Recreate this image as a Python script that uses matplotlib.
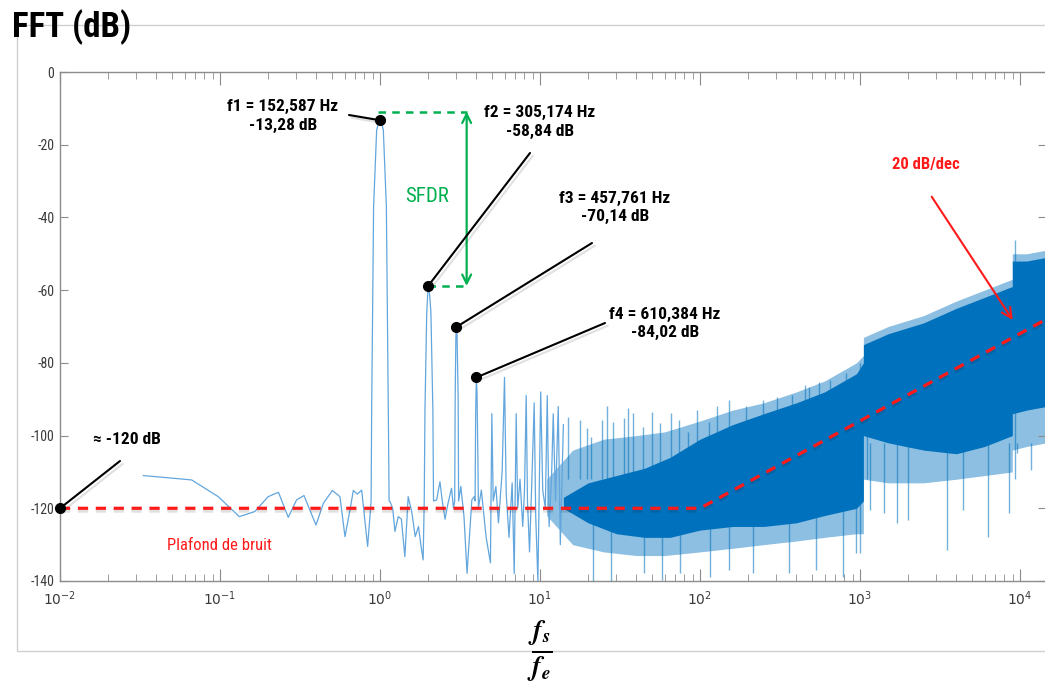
import numpy as np
import matplotlib
matplotlib.use("Agg")
import matplotlib.pyplot as plt
import matplotlib.patheffects as pe
from matplotlib.patches import Rectangle
from matplotlib.ticker import NullFormatter, FixedLocator

plt.rcParams['font.family'] = ['Roboto Condensed', 'DejaVu Sans']
plt.rcParams['axes.unicode_minus'] = False

# ---------------- data ----------------
# low-frequency trace (f / fe, dB)
line_f = [0.0332, 0.0665, 0.0975, 0.132, 0.165, 0.200, 0.232, 0.267, 0.301, 0.335, 0.398, 0.443, 0.504, 0.562, 0.604, 0.649, 0.681, 0.721, 0.768, 0.837,
          0.880, 0.887, 0.912, 0.953, 0.980, 1.000, 1.020, 1.049, 1.096, 1.127, 1.140,
          1.155, 1.20, 1.24, 1.30, 1.36, 1.43, 1.50, 1.58, 1.66, 1.74, 1.80, 1.86,
          1.89, 1.91, 1.96, 2.00, 2.04, 2.08, 2.14, 2.16,
          2.26, 2.37, 2.45, 2.55, 2.65, 2.80, 2.88,
          2.93, 2.95, 2.98, 3.00, 3.03, 3.08, 3.10,
          3.20, 3.35, 3.50, 3.75, 3.88,
          3.93, 3.96, 4.00, 4.04, 4.10, 4.12,
          4.30, 4.60, 4.90, 5.00, 5.10, 5.30, 5.50, 5.80, 6.00, 6.15, 6.40, 6.70, 6.90, 7.10,
          7.25, 7.50, 7.80, 8.00, 8.20, 8.35, 8.60, 8.90, 9.20, 9.40, 9.70, 10.1, 10.4, 10.8,
          11.1, 11.4, 11.8, 12.1, 12.5, 13.0, 13.4, 14.0]
line_db = [-111.0, -112.2, -116.8, -122.3, -120.9, -116.8, -115.6, -122.5, -117.7, -116.5, -124.6, -118.6, -115.1, -116.8, -127.8, -120.5, -115.1, -116.1, -115.0, -130.5,
           -118, -93, -37, -16, -13.8, -13.28, -13.8, -16, -37, -93, -118,
           -118.2, -120, -126.4, -122.3, -123, -133.3, -116.8, -121, -127.8, -125, -130, -134.2,
           -118, -93, -66, -58.84, -61, -66, -93, -118,
           -117.7, -112.7, -118, -123, -119, -114.5, -120,
           -118, -90, -73, -70.14, -72, -90, -118,
           -114, -122.3, -137.9, -117.7, -116.8,
           -118, -95, -84.02, -88, -110, -120,
           -115, -127.8, -135, -94, -118, -114, -124, -110, -84, -116, -128, -113, -138, -94,
           -120, -112, -125, -115, -89, -118, -132, -112, -91, -122, -140, -88, -115, -120,
           -89, -125, -112, -94, -118, -92, -130, -97]

# dense noise: dark core band
core_f = [14, 20, 30, 45, 65, 100, 160, 250, 400, 600, 950, 1050, 1050, 1500, 2500, 4000, 6000, 8950, 8950, 11000, 14600]
core_upper = [-117, -113, -111, -109, -106, -101, -97, -94, -91, -88, -83, -80, -75, -72, -69, -65, -62, -59, -52, -52, -51]
core_lower = [-120, -124, -127, -128, -128, -126, -125, -125, -124, -122, -120, -118, -100, -102, -104, -105, -103, -100, -94, -93, -92]

# dense noise: light fringe band
fringe_f = [11, 16, 25, 40, 60, 100, 160, 250, 400, 600, 950, 1050, 1050, 1500, 2500, 4000, 6000, 8950, 8950, 11000, 14600]
fringe_upper = [-112, -104, -101, -100, -99, -96, -93, -91, -88, -85, -80, -78, -73, -70, -67, -63, -60, -57, -50, -50, -49]
fringe_lower = [-122, -130, -132, -133, -133, -132, -131, -130, -129, -128, -127, -127, -112, -113, -113, -112, -111, -110, -104, -103, -102]

# isolated upward spikes
spike_f = [15.0, 17.8, 19.6, 20.9, 24.4, 26.1, 28.5, 33.3, 35.5, 38.3, 44.1, 50.4, 56.2, 65.5, 74, 84, 95.6,
           114, 127, 152, 193, 248, 305, 377, 455, 483, 557, 645, 822, 1000, 1100, 9300]
spike_top = [-94.8, -95.7, -98, -100.5, -95.7, -92, -96.2, -95.2, -92.5, -93.9, -97.6, -93.4, -96.6, -93.9, -95.7, -99, -93,
             -96.2, -92, -90.2, -92, -90.2, -89.5, -88.8, -86.1, -86.6, -85.2, -84.7, -82.9, -80.1, -74.6, -46.2]

# isolated downward spikes
dip_f = [21.5, 27.7, 44.6, 57.5, 74.9, 115, 152, 215, 360, 531, 780, 940,
         1000, 1160, 1410, 1700, 2000, 3500, 4400, 6300, 8500, 9600, 11700]
dip_bottom = [-140, -140, -137.9, -139.7, -137.9, -138.8, -137, -137.9, -137.9, -137, -138.8, -132.4,
              -132.4, -120.5, -121.4, -124.1, -123.2, -131.5, -120.5, -127.8, -121.4, -104.9, -109.5]

# annotated peaks
peak_f = [1.0, 2.0, 3.0, 4.0]
peak_db = [-13.28, -58.84, -70.14, -84.02]
peak_labels = ["f1 = 152,587 Hz\n-13,28 dB", "f2 = 305,174 Hz\n-58,84 dB",
               "f3 = 457,761 Hz\n-70,14 dB", "f4 = 610,384 Hz\n-84,02 dB"]
floor_f = [0.01]
floor_db = [-120]

# noise-floor guide (dashed red)
guide_f = [0.01, 100, 14600]
guide_db = [-120, -120, -68]

xticks = [1e-2, 1e-1, 1e0, 1e1, 1e2, 1e3, 1e4]
xticklabels = [r'$10^{-2}$', r'$10^{-1}$', r'$10^{0}$', r'$10^{1}$', r'$10^{2}$', r'$10^{3}$', r'$10^{4}$']
yticks = [0, -20, -40, -60, -80, -100, -120, -140]

# ---------------- figure ----------------
W, H = 1045, 692
fig = plt.figure(figsize=(W / 100, H / 100), dpi=100)
fig.patch.set_facecolor('white')


def fx(px):
    return px / W


def fy(py):
    return 1 - py / H


fig.patches.append(Rectangle((fx(17), fy(651)), 1.2, fy(25) - fy(651), transform=fig.transFigure,
                             fill=False, edgecolor='#cfcfcf', lw=1.0, zorder=0))

ax = fig.add_axes([fx(60), fy(581), (1046 - 60) / W, (581 - 72) / H])
ax.set_xscale('log')
xmax = 10 ** (-2 + (1046 - 60) / 160)
ax.set_xlim(0.01, xmax)
ax.set_ylim(-140, 0)

blue = '#0072BD'
ax.fill_between(fringe_f, fringe_lower, fringe_upper, color=blue, alpha=0.45, lw=0, zorder=1)
ax.fill_between(core_f, core_lower, core_upper, color=blue, lw=0, zorder=2)
dip_top = np.where(np.array(dip_f) < 1000, -120, -102)
ax.vlines(spike_f, -112, spike_top, color=blue, alpha=0.55, lw=1.0, zorder=2)
ax.vlines(dip_f, dip_bottom, dip_top, color=blue, alpha=0.55, lw=1.0, zorder=2)
ax.plot(line_f, line_db, color='#62a6dd', lw=0.9, zorder=3)

# red noise floor guide
red = '#ff1a1a'
ax.plot(guide_f, guide_db, color=red, lw=2.3, ls=(0, (3.2, 2.4)), zorder=6,
        path_effects=[pe.SimpleLineShadow(offset=(0, -2), alpha=0.12, shadow_color='k'), pe.Normal()])

# SFDR
green = '#00b050'
ax.plot([0.97, 3.48], [-10.9, -10.9], color=green, lw=1.8, ls=(0, (3, 2.5)), zorder=6)
ax.plot([2.0, 3.48], [-58.84, -58.84], color=green, lw=1.8, ls=(0, (3, 2.5)), zorder=6)
ax.annotate('', xy=(3.48, -10.9), xytext=(3.48, -58.84),
            arrowprops=dict(arrowstyle='<->', color=green, lw=1.6, mutation_scale=16,
                            shrinkA=0, shrinkB=0), zorder=6)
fig.text(fx(427), fy(197), 'SFDR', color=green, fontsize=15, ha='center', va='center')

# leader lines and dots
shadow = [pe.SimpleLineShadow(offset=(2, -2), alpha=0.12, shadow_color='k'), pe.Normal()]
starts = [(349, 115), (530, 153), (592, 243), (605, 323)]
for (sx, sy), f, d in zip(starts, peak_f, peak_db):
    ax.annotate('', xy=(f, d), xytext=(sx, H - sy), textcoords='figure pixels',
                arrowprops=dict(arrowstyle='-', color='black', lw=1.5, shrinkA=0, shrinkB=0,
                                path_effects=shadow), zorder=7)
ax.annotate('', xy=(floor_f[0], floor_db[0]), xytext=(120, H - 461), textcoords='figure pixels',
            arrowprops=dict(arrowstyle='-', color='black', lw=1.5, shrinkA=0, shrinkB=0,
                            path_effects=shadow), zorder=7)
ax.plot(peak_f + floor_f, peak_db + floor_db, 'o', color='black', ms=7, zorder=8, clip_on=False)

label_pos = [(283, 116), (540, 122), (615, 207), (665, 323)]
for (lx, ly), t in zip(label_pos, peak_labels):
    fig.text(fx(lx), fy(ly), t, fontsize=12.5, fontweight='bold', ha='center', va='center',
             multialignment='center', linespacing=1.25)
fig.text(fx(127), fy(440), '\u2248 -120 dB', fontsize=12.5, fontweight='bold', ha='center', va='center')

fig.text(fx(219), fy(545), 'Plafond de bruit', color=red, fontsize=12, ha='center', va='center')
fig.text(fx(926), fy(165), '20 dB/dec', color=red, fontsize=12, fontweight='bold', ha='center', va='center')
ax.annotate('', xy=(1012.7, H - 320), xytext=(931.7, H - 196.7), xycoords='figure pixels',
            textcoords='figure pixels',
            arrowprops=dict(arrowstyle='->', color=red, lw=1.5, mutation_scale=18,
                            shrinkA=0, shrinkB=0), zorder=7)

# axes styling
ax.set_yticks(yticks)
ax.set_yticklabels([str(v) for v in yticks])
ax.set_xticks(xticks)
ax.set_xticklabels(xticklabels)
ax.xaxis.set_minor_formatter(NullFormatter())
grey = '#8c8c8c'
for s in ax.spines.values():
    s.set_color(grey)
    s.set_linewidth(1.0)
ax.tick_params(axis='both', which='both', direction='in', top=True, right=True, color=grey,
               labelcolor='#3a3a3a', labelsize=10)
ax.tick_params(axis='x', which='major', length=9, pad=6)
ax.tick_params(axis='x', which='minor', length=5)
ax.tick_params(axis='y', which='major', length=6, pad=4)

fig.text(fx(12), fy(37), 'FFT (dB)', fontsize=25, fontweight='bold', ha='left', va='baseline')
fig.text(fx(540), fy(652), r'$\frac{\mathbfit{f}_{\mathbfit{s}}}{\mathbfit{f}_{\mathbfit{e}}}$',
         fontsize=28, ha='center', va='center', math_fontfamily='stix')

fig.savefig('out.png', dpi=100)
